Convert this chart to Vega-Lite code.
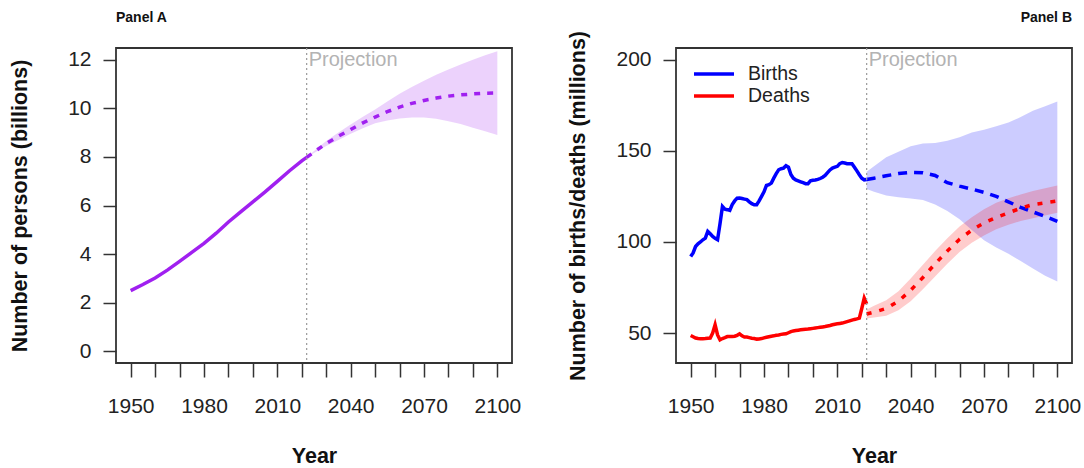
{
  "$schema": "https://vega.github.io/schema/vega-lite/v6.json",
  "autosize": {"type": "none"},
  "padding": {"left": 116, "top": 48, "right": 968, "bottom": 420},
  "bounds": "flush",
  "spacing": 164,
  "config": {
    "font": "Liberation Sans",
    "view": {"stroke": "#333", "strokeWidth": 1.8},
    "axis": {"grid": false, "domain": false, "tickColor": "#333", "tickWidth": 1.5, "labelFont": "Liberation Sans", "labelFontSize": 21, "labelColor": "#222", "titleFont": "Liberation Sans", "titleFontSize": 21.5, "titleFontWeight": "bold", "titleColor": "#111", "labelOverlap": false, "labelFlush": false}
  },
  "datasets": {
    "popHist": [
      {"year": 1950, "pop": 2.50}, {"year": 1955, "pop": 2.75}, {"year": 1960, "pop": 3.02}, {"year": 1965, "pop": 3.34},
      {"year": 1970, "pop": 3.70}, {"year": 1975, "pop": 4.07}, {"year": 1980, "pop": 4.44}, {"year": 1985, "pop": 4.86},
      {"year": 1990, "pop": 5.32}, {"year": 1995, "pop": 5.74}, {"year": 2000, "pop": 6.15}, {"year": 2005, "pop": 6.56},
      {"year": 2010, "pop": 6.99}, {"year": 2015, "pop": 7.43}, {"year": 2020, "pop": 7.84}, {"year": 2022, "pop": 7.98}
    ],
    "popProj": [
      {"year": 2022, "pop": 7.98}, {"year": 2025, "pop": 8.20}, {"year": 2030, "pop": 8.55}, {"year": 2035, "pop": 8.85},
      {"year": 2040, "pop": 9.13}, {"year": 2045, "pop": 9.40}, {"year": 2050, "pop": 9.64}, {"year": 2055, "pop": 9.86},
      {"year": 2060, "pop": 10.05}, {"year": 2065, "pop": 10.20}, {"year": 2070, "pop": 10.32}, {"year": 2075, "pop": 10.42},
      {"year": 2080, "pop": 10.50}, {"year": 2085, "pop": 10.55}, {"year": 2090, "pop": 10.59}, {"year": 2095, "pop": 10.62},
      {"year": 2100, "pop": 10.63}
    ],
    "popBand": [
      {"year": 2022, "lo": 7.98, "hi": 7.98}, {"year": 2025, "lo": 8.16, "hi": 8.24}, {"year": 2030, "lo": 8.45, "hi": 8.65},
      {"year": 2035, "lo": 8.70, "hi": 9.00}, {"year": 2040, "lo": 8.95, "hi": 9.33}, {"year": 2045, "lo": 9.18, "hi": 9.65},
      {"year": 2050, "lo": 9.38, "hi": 9.95}, {"year": 2055, "lo": 9.50, "hi": 10.28}, {"year": 2060, "lo": 9.58, "hi": 10.60},
      {"year": 2065, "lo": 9.62, "hi": 10.88}, {"year": 2070, "lo": 9.62, "hi": 11.13}, {"year": 2075, "lo": 9.57, "hi": 11.38},
      {"year": 2080, "lo": 9.47, "hi": 11.60}, {"year": 2085, "lo": 9.35, "hi": 11.80}, {"year": 2090, "lo": 9.20, "hi": 12.00},
      {"year": 2095, "lo": 9.06, "hi": 12.18}, {"year": 2100, "lo": 8.90, "hi": 12.35}
    ],
    "vitalHist": [
      {"year": 1950, "series": "Births", "value": 92.0}, {"year": 1951, "series": "Births", "value": 94.0}, {"year": 1952, "series": "Births", "value": 97.5},
      {"year": 1953, "series": "Births", "value": 99.0}, {"year": 1954, "series": "Births", "value": 100.0}, {"year": 1955, "series": "Births", "value": 101.2},
      {"year": 1956, "series": "Births", "value": 102.1}, {"year": 1957, "series": "Births", "value": 105.8}, {"year": 1958, "series": "Births", "value": 104.5},
      {"year": 1959, "series": "Births", "value": 103.0}, {"year": 1960, "series": "Births", "value": 102.0}, {"year": 1961, "series": "Births", "value": 101.2},
      {"year": 1962, "series": "Births", "value": 110.0}, {"year": 1963, "series": "Births", "value": 119.5}, {"year": 1964, "series": "Births", "value": 118.0},
      {"year": 1965, "series": "Births", "value": 117.7}, {"year": 1966, "series": "Births", "value": 117.3}, {"year": 1967, "series": "Births", "value": 120.5},
      {"year": 1968, "series": "Births", "value": 122.5}, {"year": 1969, "series": "Births", "value": 124.0}, {"year": 1970, "series": "Births", "value": 124.1},
      {"year": 1971, "series": "Births", "value": 123.8}, {"year": 1972, "series": "Births", "value": 123.5}, {"year": 1973, "series": "Births", "value": 123.2},
      {"year": 1974, "series": "Births", "value": 122.0}, {"year": 1975, "series": "Births", "value": 121.0}, {"year": 1976, "series": "Births", "value": 120.4},
      {"year": 1977, "series": "Births", "value": 120.4}, {"year": 1978, "series": "Births", "value": 122.5}, {"year": 1979, "series": "Births", "value": 125.0},
      {"year": 1980, "series": "Births", "value": 127.5}, {"year": 1981, "series": "Births", "value": 131.0}, {"year": 1982, "series": "Births", "value": 131.4},
      {"year": 1983, "series": "Births", "value": 132.3}, {"year": 1984, "series": "Births", "value": 135.0}, {"year": 1985, "series": "Births", "value": 137.5},
      {"year": 1986, "series": "Births", "value": 139.6}, {"year": 1987, "series": "Births", "value": 140.2}, {"year": 1988, "series": "Births", "value": 140.5},
      {"year": 1989, "series": "Births", "value": 141.8}, {"year": 1990, "series": "Births", "value": 141.0}, {"year": 1991, "series": "Births", "value": 137.0},
      {"year": 1992, "series": "Births", "value": 135.0}, {"year": 1993, "series": "Births", "value": 134.0}, {"year": 1994, "series": "Births", "value": 133.5},
      {"year": 1995, "series": "Births", "value": 133.0}, {"year": 1996, "series": "Births", "value": 132.5}, {"year": 1997, "series": "Births", "value": 132.0},
      {"year": 1998, "series": "Births", "value": 132.0}, {"year": 1999, "series": "Births", "value": 133.5}, {"year": 2000, "series": "Births", "value": 133.8},
      {"year": 2001, "series": "Births", "value": 134.0}, {"year": 2002, "series": "Births", "value": 134.3}, {"year": 2003, "series": "Births", "value": 134.8},
      {"year": 2004, "series": "Births", "value": 135.5}, {"year": 2005, "series": "Births", "value": 136.5}, {"year": 2006, "series": "Births", "value": 138.0},
      {"year": 2007, "series": "Births", "value": 139.5}, {"year": 2008, "series": "Births", "value": 140.5}, {"year": 2009, "series": "Births", "value": 141.0},
      {"year": 2010, "series": "Births", "value": 141.5}, {"year": 2011, "series": "Births", "value": 143.0}, {"year": 2012, "series": "Births", "value": 143.6},
      {"year": 2013, "series": "Births", "value": 143.3}, {"year": 2014, "series": "Births", "value": 142.9}, {"year": 2015, "series": "Births", "value": 142.9},
      {"year": 2016, "series": "Births", "value": 142.9}, {"year": 2017, "series": "Births", "value": 141.0}, {"year": 2018, "series": "Births", "value": 139.0},
      {"year": 2019, "series": "Births", "value": 136.9}, {"year": 2020, "series": "Births", "value": 135.0}, {"year": 2021, "series": "Births", "value": 134.1},
      {"year": 2022, "series": "Births", "value": 134.3},
      {"year": 1950, "series": "Deaths", "value": 48.7}, {"year": 1951, "series": "Deaths", "value": 48.0}, {"year": 1952, "series": "Deaths", "value": 47.3},
      {"year": 1953, "series": "Deaths", "value": 47.0}, {"year": 1954, "series": "Deaths", "value": 46.9}, {"year": 1955, "series": "Deaths", "value": 46.9},
      {"year": 1956, "series": "Deaths", "value": 47.0}, {"year": 1957, "series": "Deaths", "value": 47.2}, {"year": 1958, "series": "Deaths", "value": 47.3},
      {"year": 1959, "series": "Deaths", "value": 50.0}, {"year": 1960, "series": "Deaths", "value": 54.6}, {"year": 1961, "series": "Deaths", "value": 49.0},
      {"year": 1962, "series": "Deaths", "value": 46.3}, {"year": 1963, "series": "Deaths", "value": 47.0}, {"year": 1964, "series": "Deaths", "value": 47.5},
      {"year": 1965, "series": "Deaths", "value": 48.1}, {"year": 1966, "series": "Deaths", "value": 48.1}, {"year": 1967, "series": "Deaths", "value": 48.1},
      {"year": 1968, "series": "Deaths", "value": 48.3}, {"year": 1969, "series": "Deaths", "value": 48.8}, {"year": 1970, "series": "Deaths", "value": 49.6},
      {"year": 1971, "series": "Deaths", "value": 48.5}, {"year": 1972, "series": "Deaths", "value": 47.8}, {"year": 1973, "series": "Deaths", "value": 47.8},
      {"year": 1974, "series": "Deaths", "value": 47.5}, {"year": 1975, "series": "Deaths", "value": 47.2}, {"year": 1976, "series": "Deaths", "value": 47.0},
      {"year": 1977, "series": "Deaths", "value": 46.7}, {"year": 1978, "series": "Deaths", "value": 46.8}, {"year": 1979, "series": "Deaths", "value": 47.0},
      {"year": 1980, "series": "Deaths", "value": 47.4}, {"year": 1981, "series": "Deaths", "value": 47.7}, {"year": 1982, "series": "Deaths", "value": 48.0},
      {"year": 1983, "series": "Deaths", "value": 48.3}, {"year": 1984, "series": "Deaths", "value": 48.5}, {"year": 1985, "series": "Deaths", "value": 48.8},
      {"year": 1986, "series": "Deaths", "value": 49.0}, {"year": 1987, "series": "Deaths", "value": 49.3}, {"year": 1988, "series": "Deaths", "value": 49.5},
      {"year": 1989, "series": "Deaths", "value": 49.6}, {"year": 1990, "series": "Deaths", "value": 50.2}, {"year": 1991, "series": "Deaths", "value": 50.8},
      {"year": 1992, "series": "Deaths", "value": 51.2}, {"year": 1993, "series": "Deaths", "value": 51.4}, {"year": 1994, "series": "Deaths", "value": 51.6},
      {"year": 1995, "series": "Deaths", "value": 51.8}, {"year": 1996, "series": "Deaths", "value": 52.0}, {"year": 1997, "series": "Deaths", "value": 52.1},
      {"year": 1998, "series": "Deaths", "value": 52.2}, {"year": 1999, "series": "Deaths", "value": 52.4}, {"year": 2000, "series": "Deaths", "value": 52.6},
      {"year": 2001, "series": "Deaths", "value": 52.8}, {"year": 2002, "series": "Deaths", "value": 53.0}, {"year": 2003, "series": "Deaths", "value": 53.2},
      {"year": 2004, "series": "Deaths", "value": 53.4}, {"year": 2005, "series": "Deaths", "value": 53.6}, {"year": 2006, "series": "Deaths", "value": 53.9},
      {"year": 2007, "series": "Deaths", "value": 54.2}, {"year": 2008, "series": "Deaths", "value": 54.6}, {"year": 2009, "series": "Deaths", "value": 54.9},
      {"year": 2010, "series": "Deaths", "value": 55.1}, {"year": 2011, "series": "Deaths", "value": 55.3}, {"year": 2012, "series": "Deaths", "value": 55.5},
      {"year": 2013, "series": "Deaths", "value": 55.9}, {"year": 2014, "series": "Deaths", "value": 56.3}, {"year": 2015, "series": "Deaths", "value": 56.7},
      {"year": 2016, "series": "Deaths", "value": 57.1}, {"year": 2017, "series": "Deaths", "value": 57.5}, {"year": 2018, "series": "Deaths", "value": 57.8},
      {"year": 2019, "series": "Deaths", "value": 58.2}, {"year": 2020, "series": "Deaths", "value": 63.5}, {"year": 2021, "series": "Deaths", "value": 69.2},
      {"year": 2022, "series": "Deaths", "value": 66.0}
    ],
    "birthProj": [
      {"year": 2022, "value": 134.3}, {"year": 2025, "value": 135.0}, {"year": 2030, "value": 136.3},
      {"year": 2035, "value": 137.5}, {"year": 2040, "value": 138.2}, {"year": 2045, "value": 138.0},
      {"year": 2050, "value": 136.5}, {"year": 2055, "value": 132.5}, {"year": 2060, "value": 130.6},
      {"year": 2065, "value": 129.0}, {"year": 2070, "value": 127.2}, {"year": 2075, "value": 125.0},
      {"year": 2080, "value": 122.0}, {"year": 2085, "value": 119.0}, {"year": 2090, "value": 116.5},
      {"year": 2095, "value": 114.0}, {"year": 2100, "value": 111.3}
    ],
    "deathProj": [
      {"year": 2022, "value": 60.5}, {"year": 2025, "value": 61.5}, {"year": 2030, "value": 63.5},
      {"year": 2035, "value": 67.5}, {"year": 2040, "value": 73.5}, {"year": 2045, "value": 80.5},
      {"year": 2050, "value": 88.0}, {"year": 2055, "value": 95.0}, {"year": 2060, "value": 101.5},
      {"year": 2065, "value": 106.5}, {"year": 2070, "value": 110.5}, {"year": 2075, "value": 113.5},
      {"year": 2080, "value": 116.0}, {"year": 2085, "value": 118.5}, {"year": 2090, "value": 120.5},
      {"year": 2095, "value": 121.5}, {"year": 2100, "value": 122.5}
    ],
    "birthBand": [
      {"year": 2022, "lo": 129.0, "hi": 138.5}, {"year": 2025, "lo": 127.5, "hi": 141.5}, {"year": 2030, "lo": 125.5, "hi": 146.5},
      {"year": 2035, "lo": 124.5, "hi": 149.5}, {"year": 2040, "lo": 123.8, "hi": 152.5}, {"year": 2045, "lo": 123.0, "hi": 154.0},
      {"year": 2050, "lo": 120.5, "hi": 154.3}, {"year": 2055, "lo": 117.0, "hi": 155.5}, {"year": 2060, "lo": 112.5, "hi": 157.5},
      {"year": 2065, "lo": 106.5, "hi": 160.0}, {"year": 2070, "lo": 101.0, "hi": 161.5}, {"year": 2075, "lo": 97.0, "hi": 163.5},
      {"year": 2080, "lo": 93.5, "hi": 165.5}, {"year": 2085, "lo": 89.5, "hi": 168.5}, {"year": 2090, "lo": 85.5, "hi": 172.0},
      {"year": 2095, "lo": 81.5, "hi": 174.5}, {"year": 2100, "lo": 78.3, "hi": 177.0}
    ],
    "deathBand": [
      {"year": 2022, "lo": 58.0, "hi": 63.0}, {"year": 2025, "lo": 58.5, "hi": 65.0}, {"year": 2030, "lo": 59.5, "hi": 68.0},
      {"year": 2035, "lo": 62.5, "hi": 73.0}, {"year": 2040, "lo": 67.5, "hi": 80.0}, {"year": 2045, "lo": 74.0, "hi": 87.5},
      {"year": 2050, "lo": 81.0, "hi": 95.0}, {"year": 2055, "lo": 88.0, "hi": 102.0}, {"year": 2060, "lo": 94.5, "hi": 108.5},
      {"year": 2065, "lo": 99.5, "hi": 113.5}, {"year": 2070, "lo": 103.5, "hi": 118.0}, {"year": 2075, "lo": 107.0, "hi": 121.5},
      {"year": 2080, "lo": 109.5, "hi": 124.0}, {"year": 2085, "lo": 111.5, "hi": 126.0}, {"year": 2090, "lo": 113.0, "hi": 128.0},
      {"year": 2095, "lo": 114.5, "hi": 129.5}, {"year": 2100, "lo": 116.0, "hi": 131.0}
    ],
    "markA": [{"year": 2022, "v": 12, "label": "Projection"}],
    "markB": [{"year": 2022, "v": 200, "label": "Projection"}]
  },
  "hconcat": [
    {
      "width": 396,
      "height": 315,
      "title": {"text": "Panel A", "anchor": "start", "frame": "group", "fontSize": 14, "fontWeight": "bold", "color": "#111", "offset": 22},
      "encoding": {
        "x": {"field": "year", "type": "quantitative", "scale": {"domain": [1944, 2106], "nice": false, "zero": false},
              "axis": {"title": "Year", "values": [1950, 1960, 1970, 1980, 1990, 2000, 2010, 2020, 2030, 2040, 2050, 2060, 2070, 2080, 2090, 2100], "format": "d", "labelExpr": "datum.value % 30 == 0 ? datum.label : ''", "tickSize": 14, "labelPadding": 18, "titlePadding": 29}}
      },
      "layer": [
        {
          "data": {"name": "popBand"},
          "mark": {"type": "area", "color": "#a020f0", "opacity": 0.2},
          "encoding": {
            "y": {"field": "lo", "type": "quantitative", "scale": {"domain": [-0.48, 12.48], "nice": false, "zero": false},
                  "axis": {"title": "Number of persons (billions)", "values": [0, 2, 4, 6, 8, 10, 12], "tickSize": 13, "labelPadding": 12, "titlePadding": 36}},
            "y2": {"field": "hi"}
          }
        },
        {
          "data": {"name": "popHist"},
          "mark": {"type": "line", "color": "#a020f0", "strokeWidth": 3.5},
          "encoding": {"y": {"field": "pop", "type": "quantitative"}}
        },
        {
          "data": {"name": "popProj"},
          "mark": {"type": "line", "color": "#a020f0", "strokeWidth": 3.5, "strokeDash": [6, 7]},
          "encoding": {"y": {"field": "pop", "type": "quantitative"}}
        },
        {
          "data": {"name": "markA"},
          "mark": {"type": "rule", "color": "#999", "strokeWidth": 1.2, "strokeDash": [2, 3]},
          "encoding": {}
        },
        {
          "data": {"name": "markA"},
          "mark": {"type": "text", "align": "left", "baseline": "middle", "dx": 2, "fontSize": 20, "color": "#b3b3b3"},
          "encoding": {"y": {"field": "v", "type": "quantitative"}, "text": {"field": "label"}}
        }
      ]
    },
    {
      "width": 396,
      "height": 315,
      "title": {"text": "Panel B", "anchor": "end", "frame": "group", "fontSize": 14, "fontWeight": "bold", "color": "#111", "offset": 6},
      "encoding": {
        "x": {"field": "year", "type": "quantitative", "scale": {"domain": [1944, 2106], "nice": false, "zero": false},
              "axis": {"title": "Year", "values": [1950, 1960, 1970, 1980, 1990, 2000, 2010, 2020, 2030, 2040, 2050, 2060, 2070, 2080, 2090, 2100], "format": "d", "labelExpr": "datum.value % 30 == 0 ? datum.label : ''", "tickSize": 14, "labelPadding": 18, "titlePadding": 29}}
      },
      "layer": [
        {
          "data": {"name": "birthBand"},
          "mark": {"type": "area", "color": "#0000ff", "opacity": 0.2},
          "encoding": {
            "y": {"field": "lo", "type": "quantitative", "scale": {"domain": [33.6, 206.4], "nice": false, "zero": false},
                  "axis": {"title": "Number of births/deaths (millions)", "values": [50, 100, 150, 200], "tickSize": 13, "labelPadding": 12, "titlePadding": 26}},
            "y2": {"field": "hi"}
          }
        },
        {
          "data": {"name": "deathBand"},
          "mark": {"type": "area", "color": "#ff0000", "opacity": 0.2},
          "encoding": {"y": {"field": "lo", "type": "quantitative"}, "y2": {"field": "hi"}}
        },
        {
          "data": {"name": "vitalHist"},
          "mark": {"type": "line", "strokeWidth": 3.5},
          "encoding": {
            "y": {"field": "value", "type": "quantitative"},
            "color": {"field": "series", "type": "nominal", "scale": {"domain": ["Births", "Deaths"], "range": ["#0000ff", "#ff0000"]},
                      "legend": {"title": null, "orient": "none", "legendX": 586, "legendY": 14, "symbolType": "M-2,0H2", "symbolSize": 400, "symbolStrokeWidth": 3.5, "labelFontSize": 19.5, "labelColor": "#222", "labelOffset": 22, "padding": 0, "rowPadding": 0}}
          }
        },
        {
          "data": {"name": "birthProj"},
          "mark": {"type": "line", "color": "#0000ff", "strokeWidth": 3.5, "strokeDash": [9, 7]},
          "encoding": {"y": {"field": "value", "type": "quantitative"}}
        },
        {
          "data": {"name": "deathProj"},
          "mark": {"type": "line", "color": "#ff0000", "strokeWidth": 3.5, "strokeDash": [5, 8]},
          "encoding": {"y": {"field": "value", "type": "quantitative"}}
        },
        {
          "data": {"name": "markB"},
          "mark": {"type": "rule", "color": "#999", "strokeWidth": 1.2, "strokeDash": [2, 3]},
          "encoding": {}
        },
        {
          "data": {"name": "markB"},
          "mark": {"type": "text", "align": "left", "baseline": "middle", "dx": 2, "fontSize": 20, "color": "#b3b3b3"},
          "encoding": {"y": {"field": "v", "type": "quantitative"}, "text": {"field": "label"}}
        }
      ]
    }
  ]
}
